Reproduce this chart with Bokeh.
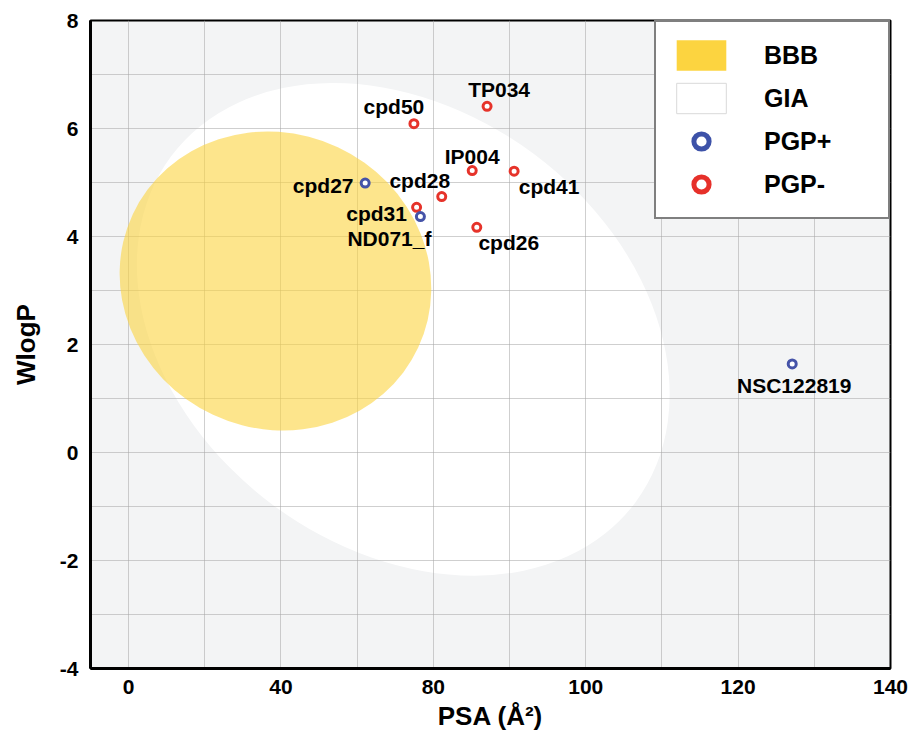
from bokeh.plotting import figure
from bokeh.models import Range1d, FixedTicker, Legend, LegendItem, ColumnDataSource
from bokeh.core.properties import value
from bokeh.embed import file_html
from bokeh.resources import INLINE
import math

# ---------------- data ----------------
compounds = ["cpd50", "TP034", "IP004", "cpd41", "cpd28", "cpd31", "ND071_f", "cpd26", "cpd27", "NSC122819"]
psa = [74.9, 94.1, 90.2, 101.2, 82.2, 75.6, 76.6, 91.4, 62.1, 174.2]
wlogp = [6.09, 6.41, 5.22, 5.21, 4.74, 4.54, 4.37, 4.17, 4.99, 1.64]
pgp = ["PGP-", "PGP-", "PGP-", "PGP-", "PGP-", "PGP-", "PGP+", "PGP-", "PGP+", "PGP+"]

# BOILED-Egg regions: centre (PSA, WlogP), full width (PSA), full height (WlogP), tilt (deg, clockwise)
yolk = dict(x=38.55, y=3.176, w=82.7, h=5.47, tilt=25.0)
white = dict(x=72.1, y=2.28, w=152.0, h=8.10, tilt=36.7)

x_tick_values = [0, 40, 80, 120, 160, 200]
x_tick_labels = ["0", "40", "80", "100", "120", "140"]
y_tick_values = [-4, -2, 0, 2, 4, 6, 8]
y_tick_labels = ["-4", "-2", "0", "2", "4", "6", "8"]

legend_labels = ["BBB", "GIA", "PGP+", "PGP-"]

# label placement (screen px offsets from each point)
label_dx = [-20, 12, 0, 35, -22, -40, -31, 32, -42, 2]
label_dy = [-17, -17, -14, 15, -16, 6, 22, 15, 2, 22]

FONT = value("Liberation Sans")
RED = "#e6332a"
BLUE = "#4553a8"

W, H = 910, 735
p = figure(width=W, height=H, output_backend="svg", toolbar_location=None,
           x_range=Range1d(-10, 200), y_range=Range1d(-4, 8),
           min_border_left=90, min_border_top=20, min_border_right=W - 890, min_border_bottom=H - 668)

p.background_fill_color = "#f3f4f5"
p.border_fill_color = "white"
p.outline_line_color = "black"
p.outline_line_width = 2

# grid
p.xgrid.ticker = FixedTicker(ticks=[0, 20, 40, 60, 80, 100, 120, 140, 160, 180])
p.ygrid.ticker = FixedTicker(ticks=[-3, -2, -1, 0, 1, 2, 3, 4, 5, 6, 7])
for g in (p.xgrid, p.ygrid):
    g.grid_line_color = "#a8a8a8"
    g.grid_line_alpha = 0.55
    g.grid_line_width = 1

# axes
p.xaxis.ticker = FixedTicker(ticks=x_tick_values)
p.xaxis.major_label_overrides = {v: l for v, l in zip(x_tick_values, x_tick_labels)}
p.yaxis.ticker = FixedTicker(ticks=y_tick_values)
p.yaxis.major_label_overrides = {v: l for v, l in zip(y_tick_values, y_tick_labels)}
p.xaxis.axis_label = "PSA (Å²)"
p.yaxis.axis_label = "WlogP"
for ax in (p.xaxis, p.yaxis):
    ax.axis_line_color = "black"
    ax.axis_line_width = 3
    ax.major_tick_out = 0
    ax.major_tick_in = 0
    ax.minor_tick_out = 0
    ax.minor_tick_in = 0
    ax.major_label_text_font = "Liberation Sans"
    ax.major_label_text_font_style = "bold"
    ax.major_label_text_font_size = "21px"
    ax.major_label_text_color = "black"
    ax.axis_label_text_font = "Liberation Sans"
    ax.axis_label_text_font_style = "bold"
    ax.axis_label_text_font_size = "26px"
    ax.axis_label_text_color = "black"
p.xaxis.major_label_standoff = 11
p.xaxis.axis_label_standoff = 4
p.yaxis.major_label_standoff = 12
p.yaxis.axis_label_standoff = 16

# egg white and yolk (negative angle = clockwise tilt on screen)
p.ellipse(x=[white["x"]], y=[white["y"]], width=[white["w"]], height=[white["h"]],
          angle=[-math.radians(white["tilt"])], fill_color="white", line_color=None, level="image")
p.ellipse(x=[yolk["x"]], y=[yolk["y"]], width=[yolk["w"]], height=[yolk["h"]],
          angle=[-math.radians(yolk["tilt"])], fill_color="#FCD440", fill_alpha=0.6, line_color=None)

# points
colors = [BLUE if g == "PGP+" else RED for g in pgp]
src = ColumnDataSource(dict(x=psa, y=wlogp, name=compounds, color=colors, dx=label_dx, dy=label_dy))
p.scatter(x="x", y="y", source=src, marker="circle", size=8, fill_color="white",
          line_color="color", line_width=3)
p.text(x="x", y="y", text="name", source=src, x_offset="dx", y_offset="dy",
       text_align="center", text_baseline="alphabetic", text_font=FONT,
       text_font_style="bold", text_font_size="21px", text_color="black")

# legend-only renderers (hidden from the plot area, drawn only in the legend)
anchor = dict(x=[psa[0]], y=[wlogp[0]])
r_bbb = p.rect(width=1, height=1, fill_color="#FCD440", line_color=None, visible=False, **anchor)
r_gia = p.rect(width=1, height=1, fill_color="white", line_color="#d9d9d9", visible=False, **anchor)
r_pos = p.scatter(marker="circle", fill_color="white", line_color="#3d52a8", line_width=5,
                  visible=False, **anchor)
r_neg = p.scatter(marker="circle", fill_color="white", line_color="#e6302a", line_width=5,
                  visible=False, **anchor)

legend = Legend(items=[LegendItem(label=l, renderers=[r]) for l, r in
                       zip(legend_labels, [r_bbb, r_gia, r_pos, r_neg])],
                location="top_right", margin=0, padding=14, spacing=5,
                glyph_width=62, glyph_height=38, label_standoff=32, label_width=110,
                label_text_font="Liberation Sans", label_text_font_style="bold",
                label_text_font_size="25px", label_text_baseline="middle", label_text_color="black",
                border_line_color="black", border_line_width=2,
                background_fill_color="white", background_fill_alpha=1.0,
                inactive_fill_alpha=0.0, click_policy="none")
p.add_layout(legend)

open("out.html", "w").write(file_html(p, INLINE))
